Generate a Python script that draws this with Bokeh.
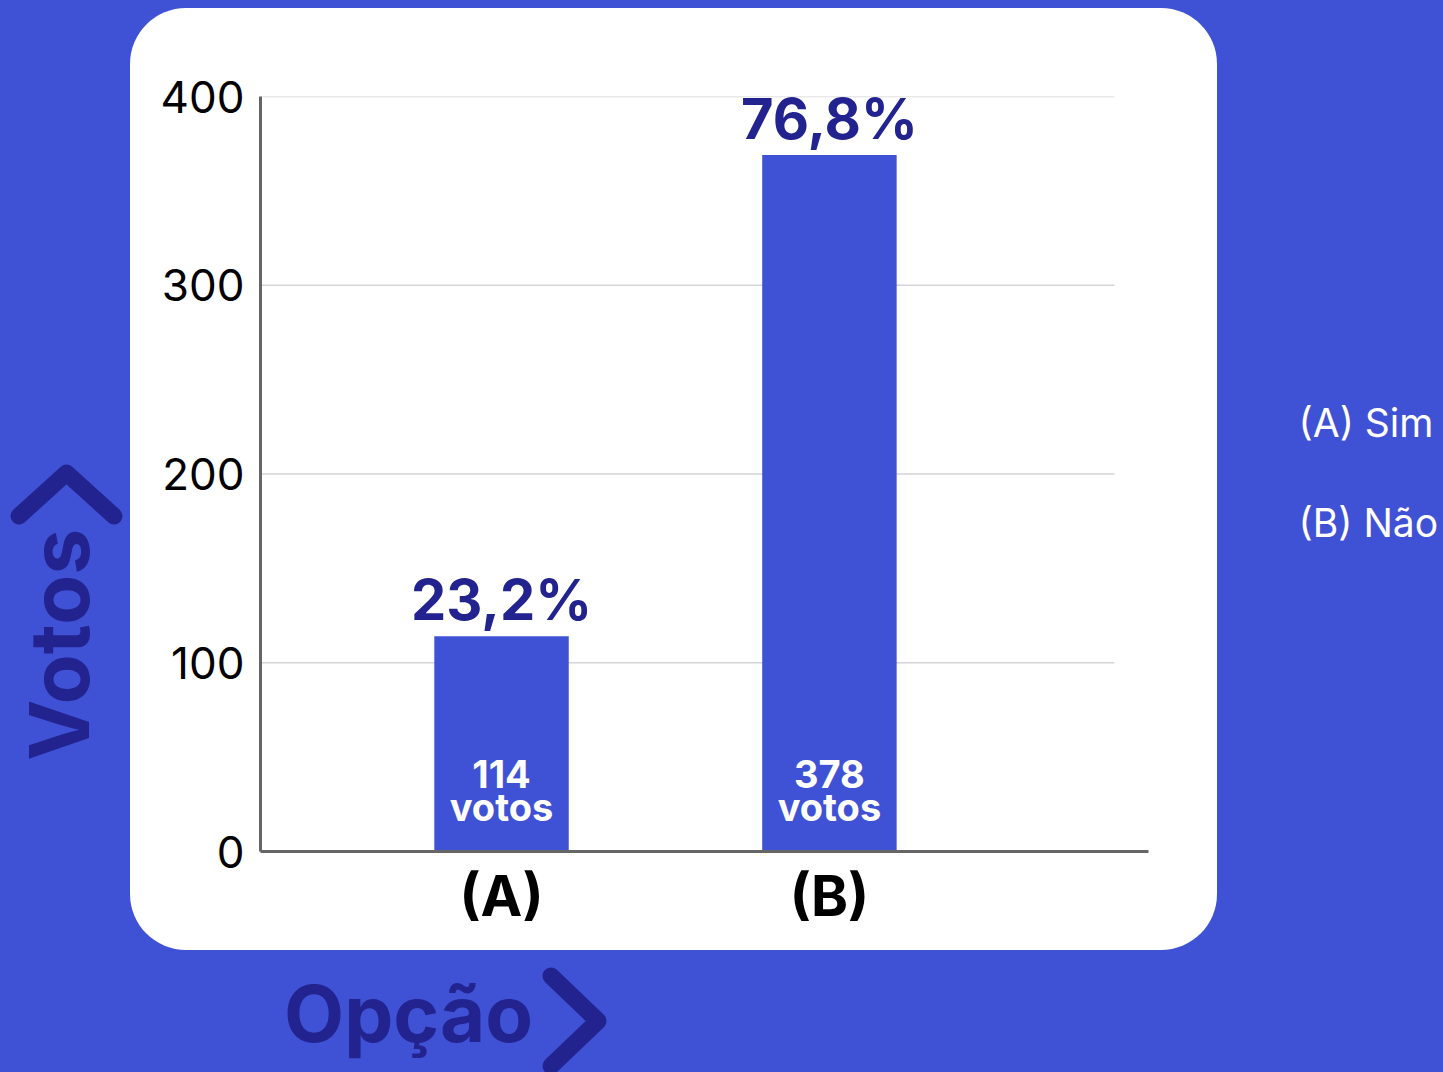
import math
from urllib.parse import quote
from bokeh.plotting import figure
from bokeh.models import (ColumnDataSource, LabelSet, LinearAxis,
                          FixedTicker, Range1d)
from bokeh.embed import file_html
from bokeh.resources import INLINE
from bokeh.core.properties import value

# ---- data ----
options = ["(A)", "(B)"]
option_names = ["Sim", "Não"]
votes = [114, 378]
bar_heights = [114, 369]          # bar heights as drawn in the picture
percents = ["23,2%", "76,8%"]
y_ticks = [0, 100, 200, 300, 400]
grid_values = [100, 200, 300, 400]
x_pos = [1, 2]

# placement of the outer captions along the axes (data units)
votos_pos = 171
opcao_pos = 0.7165
legend_pos = [227.3, 174.3]

BLUE = "#3F52D5"
NAVY = "#22238F"
FONT = "Inter"

PAD = 60                      # hidden extra room on the left for the "Votos" caption
W, H = 1443 + PAD, 1072

p = figure(width=W, height=H, output_backend="svg", toolbar_location=None,
           x_range=Range1d(0.265, 2.973), y_range=Range1d(0, 400),
           min_border_left=260 + PAD, min_border_right=295,
           min_border_top=96, min_border_bottom=221,
           background_fill_color="white", border_fill_color=None,
           outline_line_color=None)
p.margin = (0, 0, 0, -PAD)
p.title.visible = False

# grid lines (stop short of the axis end)
p.xgrid.visible = False
p.ygrid.visible = False
gsrc = ColumnDataSource(dict(y=grid_values, x0=[0.265] * len(grid_values),
                             x1=[2.869] * len(grid_values)))
p.segment(x0="x0", x1="x1", y0="y", y1="y", source=gsrc,
          line_color="#d4d4d4", line_width=1.5)

# bars
src = ColumnDataSource(dict(x=x_pos, top=bar_heights, pct=percents,
                            n=[str(v) for v in votes],
                            vt=["votos"] * len(votes), zero=[0] * len(votes)))
p.vbar(x="x", top="top", width=0.41, source=src, fill_color=BLUE,
       line_color=None)

p.add_layout(LabelSet(x="x", y="top", text="pct", source=src, y_offset=16,
                      text_align="center", text_baseline="alphabetic",
                      text_font=value(FONT), text_font_style="bold",
                      text_font_size="56px", text_color=NAVY))
p.add_layout(LabelSet(x="x", y="zero", text="n", source=src, y_offset=64,
                      text_align="center", text_baseline="alphabetic",
                      text_font=value(FONT), text_font_style="bold",
                      text_font_size="38px", text_color="white"))
p.add_layout(LabelSet(x="x", y="zero", text="vt", source=src, y_offset=31,
                      text_align="center", text_baseline="alphabetic",
                      text_font=value(FONT), text_font_style="bold",
                      text_font_size="38px", text_color="white"))


def hide_axis_marks(ax):
    ax.minor_tick_line_color = None
    ax.major_tick_line_color = None
    ax.major_tick_out = 0
    ax.major_tick_in = 0


# main axes
p.yaxis.ticker = FixedTicker(ticks=y_ticks)
hide_axis_marks(p.yaxis[0])
p.yaxis.major_label_standoff = 16
p.yaxis.major_label_text_font = FONT
p.yaxis.major_label_text_font_size = "44px"
p.yaxis.major_label_text_color = "black"
p.yaxis.axis_line_color = "#666666"
p.yaxis.axis_line_width = 3

p.xaxis.ticker = FixedTicker(ticks=x_pos)
p.xaxis.major_label_overrides = {x: lab for x, lab in zip(x_pos, options)}
hide_axis_marks(p.xaxis[0])
p.xaxis.major_label_standoff = 10
p.xaxis.major_label_text_font = FONT
p.xaxis.major_label_text_font_style = "bold"
p.xaxis.major_label_text_font_size = "56px"
p.xaxis.major_label_text_color = "black"
p.xaxis.axis_line_color = "#666666"
p.xaxis.axis_line_width = 3

# outer caption "Votos" (second left axis, rotated label)
ax_v = LinearAxis(ticker=FixedTicker(ticks=[votos_pos]),
                  major_label_overrides={votos_pos: "Votos"},
                  major_label_orientation=math.pi / 2,
                  major_label_standoff=98, axis_line_color=None,
                  major_label_text_font=FONT, major_label_text_font_style="bold",
                  major_label_text_font_size="82px", major_label_text_color=NAVY)
hide_axis_marks(ax_v)
p.add_layout(ax_v, "left")

# outer caption "Opção" (second bottom axis)
ax_o = LinearAxis(ticker=FixedTicker(ticks=[opcao_pos]),
                  major_label_overrides={opcao_pos: "Opção"},
                  major_label_standoff=33, axis_line_color=None,
                  major_label_text_font=FONT, major_label_text_font_style="bold",
                  major_label_text_font_size="78px", major_label_text_color=NAVY)
hide_axis_marks(ax_o)
p.add_layout(ax_o, "below")

# legend texts on the right (right axis labels)
ax_l = LinearAxis(ticker=FixedTicker(ticks=legend_pos),
                  major_label_overrides={y: f"{o} {nm}" for y, o, nm in
                                         zip(legend_pos, options, option_names)},
                  major_label_standoff=150, axis_line_color=None,
                  major_label_text_font=FONT, major_label_text_font_size="39px",
                  major_label_text_color="white")
hide_axis_marks(ax_l)
p.add_layout(ax_l, "right")

# decorative page background: white rounded card + chevrons
svg = ("<svg xmlns='http://www.w3.org/2000/svg' width='1443' height='1072'>"
       "<rect x='130' y='8' width='1087' height='942' rx='56' ry='56' fill='white'/>"
       f"<polyline points='19,516 66.5,473 114,516' fill='none' stroke='{NAVY}' "
       "stroke-width='17' stroke-linecap='round' stroke-linejoin='round'/>"
       f"<polyline points='551,976 598,1021 551,1066' fill='none' stroke='{NAVY}' "
       "stroke-width='17' stroke-linecap='round' stroke-linejoin='round'/>"
       "</svg>")
css = ("<style>html{background-color:%s;background-image:url(\"data:image/svg+xml,%s\");"
       "background-repeat:no-repeat;background-position:0 0;overflow:hidden;}"
       "body{background:transparent;overflow:hidden;}</style>") % (BLUE, quote(svg))

html = file_html(p, INLINE, title="Votos")
html = html.replace("<head>", "<head>" + css, 1)
open("out.html", "w").write(html)
